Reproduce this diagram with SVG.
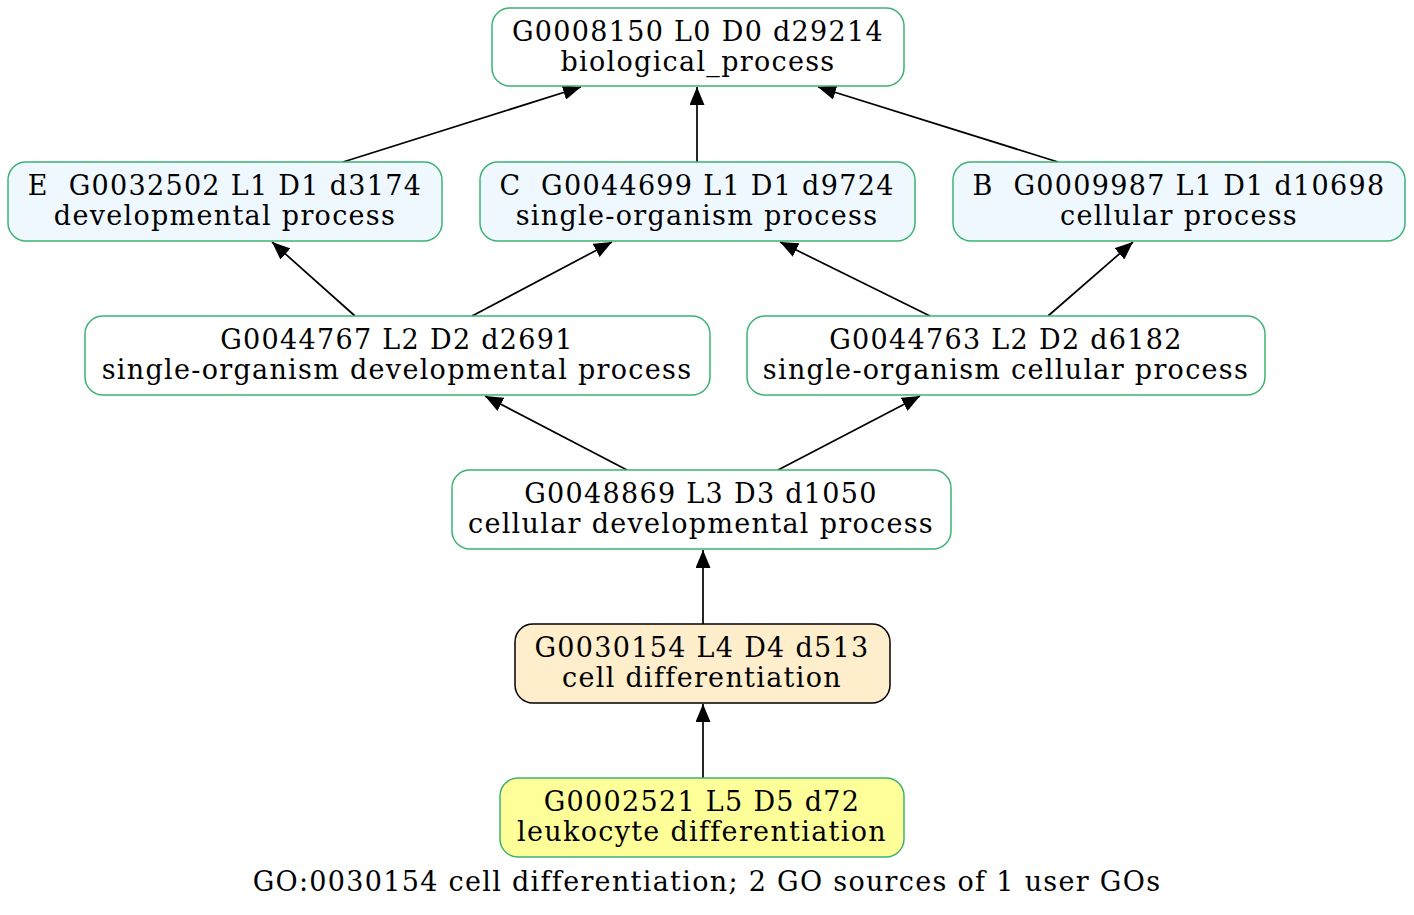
<svg xmlns="http://www.w3.org/2000/svg" width="1414" height="915" viewBox="0 0 1414 915">
<defs>
<marker id="ah" markerWidth="18" markerHeight="15" refX="18" refY="7.5" orient="auto" markerUnits="userSpaceOnUse" viewBox="0 0 18 15">
<path d="M0,0 L18,7.5 L0,15 Z" fill="#000"/>
</marker>
<style>
.n rect{stroke:#3cb371;stroke-width:1.5}
.src rect{fill:#f0f8ff}
.plain rect{fill:#ffffff}
text{font-family:"DejaVu Serif",serif;font-size:27px;fill:#000;text-anchor:middle;letter-spacing:1.3px;white-space:pre}
.e line{stroke:#000;stroke-width:1.7;marker-end:url(#ah)}
</style>
</defs>
<rect width="1414" height="915" fill="#fff"/>
<g id="connectors" class="e">
<line x1="343" y1="162" x2="581" y2="87"/>
<line x1="697" y1="162" x2="697" y2="87"/>
<line x1="1058" y1="162" x2="818" y2="87"/>
<line x1="355" y1="316" x2="272" y2="242"/>
<line x1="472" y1="316" x2="612" y2="242"/>
<line x1="930" y1="316" x2="780" y2="242"/>
<line x1="1048" y1="316" x2="1133" y2="242"/>
<line x1="627" y1="470" x2="485" y2="396"/>
<line x1="778" y1="470" x2="920" y2="396"/>
<line x1="703" y1="624" x2="703" y2="550"/>
<line x1="703" y1="778" x2="703" y2="704"/>
</g>
<g id="n0" class="n plain"><rect x="492" y="8" width="412" height="78" rx="18"/><text x="698" y="41">G0008150 L0 D0 d29214</text><text x="698" y="71">biological_process</text></g>
<g id="nE" class="n src"><rect x="8" y="162" width="434" height="79" rx="18"/><text x="225" y="195" xml:space="preserve">E  G0032502 L1 D1 d3174</text><text x="225" y="225">developmental process</text></g>
<g id="nC" class="n src"><rect x="480" y="162" width="435" height="79" rx="18"/><text x="697" y="195" xml:space="preserve">C  G0044699 L1 D1 d9724</text><text x="697" y="225">single-organism process</text></g>
<g id="nB" class="n src"><rect x="953" y="162" width="452" height="79" rx="18"/><text x="1179" y="195" xml:space="preserve">B  G0009987 L1 D1 d10698</text><text x="1179" y="225">cellular process</text></g>
<g id="n44767" class="n plain"><rect x="85" y="316" width="625" height="79" rx="18"/><text x="397" y="349">G0044767 L2 D2 d2691</text><text x="397" y="379">single-organism developmental process</text></g>
<g id="n44763" class="n plain"><rect x="747" y="316" width="518" height="79" rx="18"/><text x="1006" y="349">G0044763 L2 D2 d6182</text><text x="1006" y="379">single-organism cellular process</text></g>
<g id="n48869" class="n plain"><rect x="452" y="470" width="499" height="79" rx="18"/><text x="701" y="503">G0048869 L3 D3 d1050</text><text x="701" y="533">cellular developmental process</text></g>
<g id="n30154"><rect x="515" y="624" width="375" height="79" rx="18" fill="#ffeecc" stroke="#000" stroke-width="1.5"/><text x="702" y="657">G0030154 L4 D4 d513</text><text x="702" y="687">cell differentiation</text></g>
<g id="n2521" class="n"><rect x="500" y="778" width="404" height="79" rx="18" fill="#ffff99"/><text x="702" y="811">G0002521 L5 D5 d72</text><text x="702" y="841">leukocyte differentiation</text></g>
<text x="707" y="891">GO:0030154 cell differentiation; 2 GO sources of 1 user GOs</text>
</svg>
